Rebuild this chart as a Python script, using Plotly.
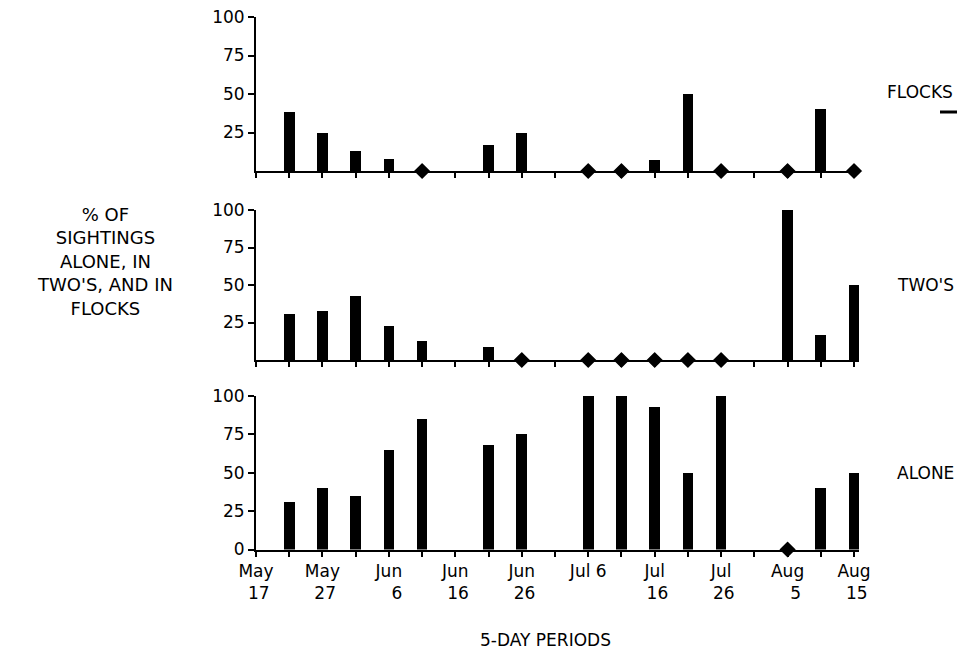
import plotly.graph_objects as go

# 5-day periods (index 0 = May 17 ... index 18 = Aug 15)
periods = ["May 17", "May 22", "May 27", "Jun 1", "Jun 6", "Jun 11", "Jun 16", "Jun 21",
           "Jun 26", "Jul 1", "Jul 6", "Jul 11", "Jul 16", "Jul 21", "Jul 26", "Jul 31",
           "Aug 5", "Aug 10", "Aug 15"]

# % of sightings (None = no data, 0 = shown as diamond)
flocks = [None, 38, 25, 13, 8, 0, None, 17, 25, None, 0, 0, 7, 50, 0, None, 0, 40, 0]
twos = [None, 31, 33, 43, 23, 13, None, 9, 0, None, 0, 0, 0, 0, 0, None, 100, 17, 50]
alone = [None, 31, 40, 35, 65, 85, None, 68, 75, None, 100, 100, 93, 50, 100, None, 0, 40, 50]

# x tick labels
tick_months = ["May", "May", "Jun", "Jun", "Jun", "Jul 6", "Jul", "Jul", "Aug", "Aug"]
tick_days = ["17", "27", "6", "16", "26", "", "16", "26", "5", "15"]
y_ticks = [0, 25, 50, 75, 100]

panel_names = ["ALONE", "TWO'S", "FLOCKS"]
panel_data = [alone, twos, flocks]

FONT = "DejaVu Sans"
W, H = 975, 666
OFF = 8  # page body margin
x_pos = list(range(len(periods)))


def px_x(p):
    return (p - OFF) / W


def px_y(p):
    return (H - (p - OFF)) / H


# tick text for bottom axis
ticktext = []
lab_i = 0
for i in x_pos:
    if i % 2 == 0:
        m = tick_months[lab_i]
        d = tick_days[lab_i]
        pad = "\u00a0" * max(0, 2 * (len(m) - len(d)) - 1) if d else ""
        ticktext.append(m + ("<br>" + pad + d if d else "<br> "))
        lab_i += 1
    else:
        ticktext.append("")

fig = go.Figure()

x_dom = [px_x(256), px_x(859)]
y_px = [(549.5, 396), (360, 210), (171, 17)]  # (zero px, hundred px) for each panel

for k, (name, vals) in enumerate(zip(panel_names, panel_data)):
    xa = "x" if k == 0 else f"x{k+1}"
    ya = "y" if k == 0 else f"y{k+1}"
    bx = [x for x, v in zip(x_pos, vals) if v is not None and v > 0]
    by = [v for v in vals if v is not None and v > 0]
    dx = [x for x, v in zip(x_pos, vals) if v == 0]
    dy = [0 for v in vals if v == 0]
    fig.add_trace(go.Bar(x=bx, y=by, xaxis=xa, yaxis=ya, width=0.32,
                         marker=dict(color="black", line=dict(width=0)),
                         showlegend=False, hoverinfo="skip"))
    fig.add_trace(go.Scatter(x=dx, y=dy, xaxis=xa, yaxis=ya, mode="markers",
                             marker=dict(symbol="diamond", size=14, color="black",
                                         line=dict(color="white", width=1.5)),
                             cliponaxis=False, showlegend=False, hoverinfo="skip"))

axis_common = dict(showgrid=False, zeroline=False, showline=True, linecolor="black",
                   linewidth=2, ticks="outside", tickcolor="black", tickwidth=2,
                   automargin=False, ticklabeloverflow="allow",
                   tickfont=dict(family=FONT, size=17, color="black"))

for k in range(3):
    zero_px, hund_px = y_px[k]
    ydom = [px_y(zero_px), px_y(hund_px)]
    xkey = "xaxis" if k == 0 else f"xaxis{k+1}"
    ykey = "yaxis" if k == 0 else f"yaxis{k+1}"
    ya = "y" if k == 0 else f"y{k+1}"
    xa = "x" if k == 0 else f"x{k+1}"
    xa_cfg = dict(axis_common, domain=x_dom, range=[0, 18.15], anchor=ya,
                  tickvals=x_pos, ticklen=5)
    if k == 0:
        xa_cfg.update(ticktext=ticktext, showticklabels=True)
    else:
        xa_cfg.update(showticklabels=False)
    fig.update_layout({xkey: xa_cfg})
    yt = y_ticks if k == 0 else y_ticks[1:]
    fig.update_layout({ykey: dict(axis_common, domain=ydom, range=[0, 100], anchor=xa,
                                  tickvals=yt, ticktext=[str(t) for t in yt], ticklen=6)})

annotations = [
    dict(text="FLOCKS", x=px_x(920), y=px_y(92)),
    dict(text="TWO'S", x=px_x(925), y=px_y(285)),
    dict(text="ALONE", x=px_x(925), y=px_y(473)),
    dict(text="% OF<br>SIGHTINGS<br>ALONE, IN<br>TWO'S, AND IN<br>FLOCKS",
         x=px_x(105), y=px_y(262), size=18),
    dict(text="5-DAY PERIODS", x=px_x(545), y=px_y(640)),
]
for a in annotations:
    sz = a.pop("size", 17)
    a.update(xref="paper", yref="paper", showarrow=False, xanchor="center",
             yanchor="middle", font=dict(family=FONT, size=sz, color="black"),
             align="center")

fig.update_layout(
    width=W, height=H,
    margin=dict(l=0, r=0, t=0, b=0, autoexpand=False),
    paper_bgcolor="white", plot_bgcolor="white",
    annotations=annotations,
    shapes=[dict(type="line", xref="paper", yref="paper",
                 x0=px_x(940), x1=px_x(957), y0=px_y(112), y1=px_y(112),
                 line=dict(color="black", width=3))],
    bargap=0,
)

fig.write_html("out.html")
